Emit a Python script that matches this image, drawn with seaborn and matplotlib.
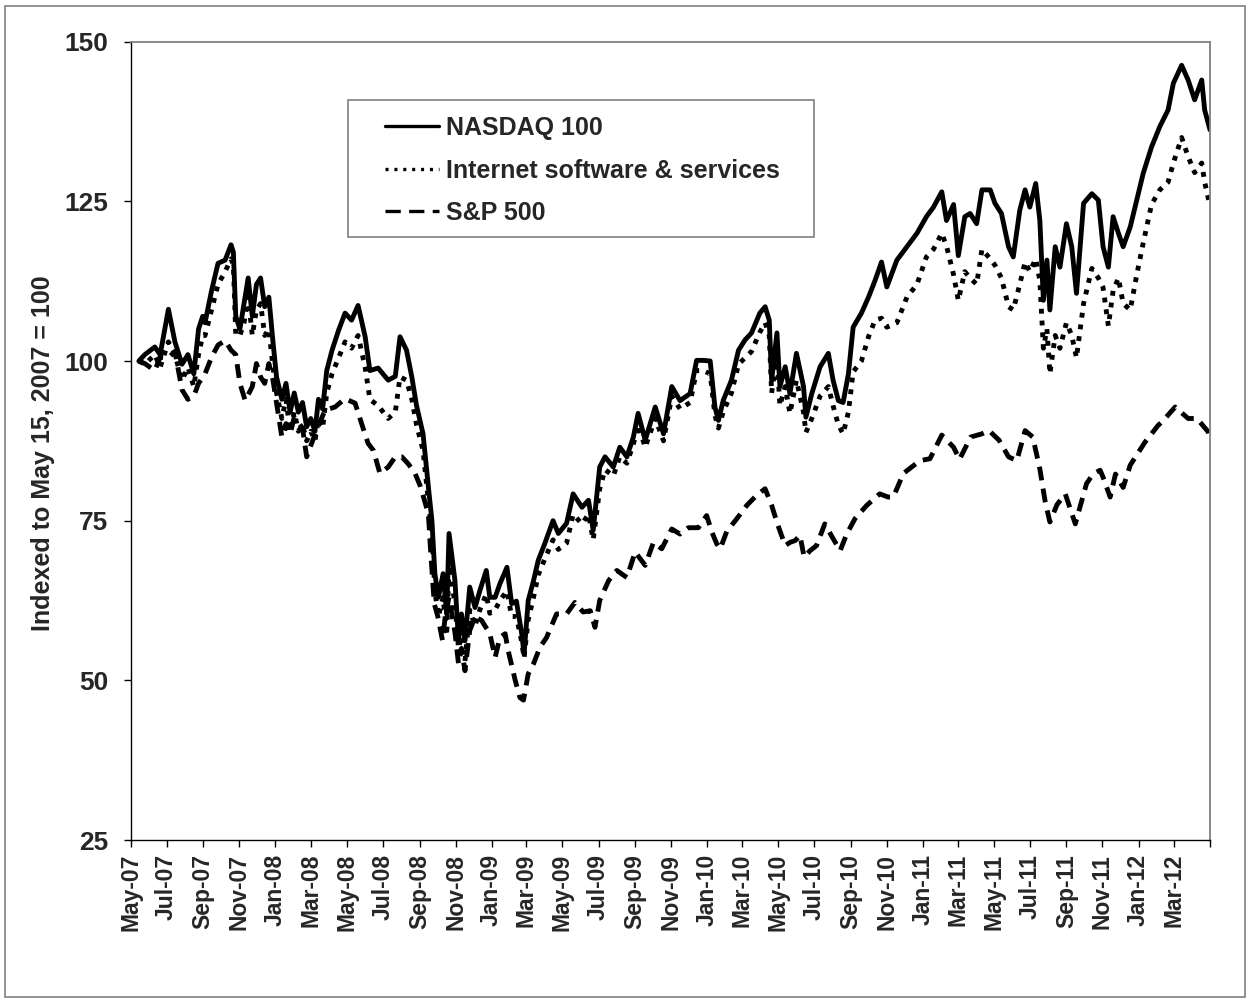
import matplotlib
matplotlib.use("Agg")
import matplotlib.pyplot as plt
from matplotlib.lines import Line2D
from matplotlib.patches import Rectangle
from matplotlib.font_manager import FontProperties
import pandas as pd
import seaborn as sns

# ---------------- data ----------------
series_names = ["NASDAQ 100", "Internet software & services", "S&P 500"]

grid_dates = [
    "2007-05-15", "2007-05-25", "2007-06-11", "2007-06-20", "2007-07-04", "2007-07-15", "2007-07-27", "2007-08-06",
    "2007-08-16", "2007-08-24", "2007-08-31", "2007-09-04", "2007-09-15", "2007-09-26", "2007-10-08", "2007-10-18",
    "2007-10-22", "2007-10-26", "2007-11-02", "2007-11-09", "2007-11-16", "2007-11-23", "2007-11-30", "2007-12-07",
    "2007-12-14", "2007-12-21", "2007-12-28", "2008-01-03", "2008-01-12", "2008-01-19", "2008-01-26", "2008-02-02",
    "2008-02-09", "2008-02-16", "2008-02-23", "2008-03-01", "2008-03-08", "2008-03-14", "2008-03-21", "2008-03-28",
    "2008-04-06", "2008-04-17", "2008-04-28", "2008-05-09", "2008-05-20", "2008-06-01", "2008-06-09", "2008-06-23",
    "2008-07-10", "2008-07-22", "2008-07-30", "2008-08-10", "2008-08-19", "2008-08-27", "2008-09-07", "2008-09-16",
    "2008-09-22", "2008-09-27", "2008-10-03", "2008-10-11", "2008-10-17", "2008-10-21", "2008-10-31", "2008-11-06",
    "2008-11-11", "2008-11-17", "2008-11-25", "2008-12-04", "2008-12-12", "2008-12-23", "2008-12-29", "2009-01-07",
    "2009-01-15", "2009-01-27", "2009-02-04", "2009-02-12", "2009-02-21", "2009-02-25", "2009-03-04", "2009-03-13",
    "2009-03-21", "2009-04-01", "2009-04-15", "2009-04-24", "2009-05-08", "2009-05-19", "2009-06-03", "2009-06-14",
    "2009-06-22", "2009-07-03", "2009-07-12", "2009-07-26", "2009-08-06", "2009-08-18", "2009-08-29", "2009-09-06",
    "2009-09-18", "2009-10-05", "2009-10-19", "2009-11-02", "2009-11-16", "2009-12-03", "2009-12-14", "2009-12-25",
    "2010-01-06", "2010-01-14", "2010-01-20", "2010-01-28", "2010-02-11", "2010-02-23", "2010-03-06", "2010-03-17",
    "2010-03-31", "2010-04-09", "2010-04-16", "2010-04-20", "2010-04-29", "2010-05-04", "2010-05-13", "2010-05-21",
    "2010-06-01", "2010-06-13", "2010-06-17", "2010-06-27", "2010-07-11", "2010-07-25", "2010-08-02", "2010-08-11",
    "2010-08-19", "2010-08-28", "2010-09-05", "2010-09-19", "2010-10-01", "2010-10-12", "2010-10-23", "2010-11-01",
    "2010-11-18", "2010-12-05", "2010-12-22", "2011-01-07", "2011-01-19", "2011-02-02", "2011-02-10", "2011-02-22",
    "2011-03-02", "2011-03-13", "2011-03-22", "2011-04-02", "2011-04-11", "2011-04-25", "2011-05-03", "2011-05-14",
    "2011-05-26", "2011-06-03", "2011-06-14", "2011-06-23", "2011-07-01", "2011-07-11", "2011-07-18", "2011-07-24",
    "2011-07-30", "2011-08-04", "2011-08-13", "2011-08-21", "2011-09-01", "2011-09-10", "2011-09-18", "2011-09-30",
    "2011-10-14", "2011-10-25", "2011-11-02", "2011-11-11", "2011-11-19", "2011-11-28", "2011-12-06", "2011-12-18",
    "2011-12-29", "2012-01-09", "2012-01-23", "2012-02-06", "2012-02-20", "2012-02-29", "2012-03-14", "2012-03-25",
    "2012-04-05", "2012-04-17", "2012-04-22", "2012-05-01",
]

nasdaq_values = [
    100, 101, 102.2, 101, 108.1, 103, 99.5, 101,
    98, 105, 107, 106, 111, 115.3, 115.8, 118.2,
    117, 107, 105, 109, 113, 107, 112, 113,
    108.5, 110, 103, 97.5, 94, 96.5, 92, 95,
    92, 93.5, 89.7, 91, 89, 94, 92.5, 98.5,
    101.7, 104.8, 107.5, 106.4, 108.7, 103.8, 98.5, 98.9,
    97, 97.6, 103.8, 101.7, 97.5, 93, 88.6, 80.3,
    75, 66.7, 63, 66.7, 60.4, 73, 65.6, 56.2,
    60.4, 56.2, 64.6, 61.4, 64, 67.2, 63, 63,
    65.1, 67.7, 62, 62.4, 57.3, 54.1, 62.5, 65.6,
    68.8, 71.4, 75, 73, 74.6, 79.2, 77.1, 78.2,
    73.5, 83.4, 85, 83.4, 86.5, 85, 88.1, 91.8,
    87.6, 92.8, 88.6, 96, 93.8, 94.9, 100.1, 100.1,
    100, 92.8, 90.7, 93.8, 97, 101.7, 103.3, 104.4,
    107.5, 108.5, 106.4, 97, 104.4, 96, 99.1, 94.9,
    101.2, 96, 91.2, 94.9, 99.1, 101.2, 97, 93.8,
    93.5, 98, 105.3, 107.5, 110, 112.6, 115.5, 111.6,
    115.8, 117.9, 120, 122.6, 124.1, 126.5, 122, 124.5,
    116.5, 122.6, 123.1, 121.5, 126.8, 126.8, 124.7, 123.1,
    117.9, 116.3, 123.6, 126.8, 124.1, 127.8, 122, 109.5,
    115.8, 108, 117.9, 114.7, 121.5, 117.9, 110.6, 124.7,
    126.2, 125.2, 117.9, 114.7, 122.6, 120, 117.9, 121,
    125.2, 129.4, 133.5, 136.7, 139.3, 143.5, 146.3, 144,
    140.9, 144, 139.3, 136.2,
]

internet_values = [
    100, 99.5, 101, 99, 103, 101, 97, 99,
    96, 101, 104, 104, 108, 112, 114, 116,
    115, 104, 104, 106, 110, 104, 108, 109,
    104, 105, 99, 95, 91, 94, 89, 92,
    89, 90, 87.5, 89, 87.5, 91, 89.5, 95,
    98, 100.5, 103, 102, 104, 99, 94, 93,
    91, 92, 97.5, 97, 94, 90, 86, 78,
    73, 64, 60, 63, 57, 68, 62, 55,
    57, 53, 61, 58.5, 61, 63.5, 60.5, 61,
    62.5, 64, 60, 60, 56, 53.5, 59.5, 63,
    66.5, 69, 72, 70.5, 71.5, 76, 74.5, 76,
    72, 80, 83, 82, 85, 84, 87, 90,
    86.5, 91, 87.5, 94.5, 92.5, 93.5, 98.5, 98.5,
    98, 91.5, 89.5, 92, 95, 99.5, 100.5, 101.5,
    104.5, 106, 104, 95, 101, 93, 96, 91.8,
    97, 92, 88.8, 91, 94.5, 96, 93, 90,
    88.6, 92, 98.3, 100, 103.8, 106.4, 106.7, 105.3,
    106, 110, 112, 116.3, 117.5, 120, 118, 113.5,
    109.5, 114, 113, 112, 117.5, 116, 115, 113,
    108.5, 108, 112, 115.5, 114, 116, 112.6, 102,
    105, 98, 104, 102, 106, 104, 100.5, 109,
    114.5, 113, 111.5, 105.5, 111, 113, 109, 108,
    113.5, 118.5, 124.5, 126.8, 128, 131, 135, 132,
    129.5, 131, 128, 124.3,
]

sp500_dates = [
    "2007-05-15", "2007-05-25", "2007-06-11", "2007-06-20", "2007-07-04", "2007-07-15", "2007-07-27", "2007-08-06",
    "2007-08-16", "2007-08-24", "2007-09-04", "2007-09-15", "2007-09-26", "2007-10-08", "2007-10-18", "2007-10-26",
    "2007-11-02", "2007-11-11", "2007-11-23", "2007-11-30", "2007-12-07", "2007-12-14", "2007-12-21", "2007-12-28",
    "2008-01-03", "2008-01-12", "2008-01-19", "2008-01-26", "2008-02-02", "2008-02-16", "2008-02-23", "2008-03-08",
    "2008-03-25", "2008-04-11", "2008-04-28", "2008-05-15", "2008-05-26", "2008-06-06", "2008-06-15", "2008-06-26",
    "2008-07-10", "2008-07-22", "2008-08-02", "2008-08-13", "2008-08-24", "2008-09-02", "2008-09-10", "2008-09-16",
    "2008-09-20", "2008-09-26", "2008-10-02", "2008-10-10", "2008-10-15", "2008-10-21", "2008-10-31", "2008-11-06",
    "2008-11-11", "2008-11-17", "2008-11-25", "2008-12-04", "2008-12-15", "2008-12-29", "2009-01-07", "2009-01-15",
    "2009-01-24", "2009-01-29", "2009-02-10", "2009-02-18", "2009-02-24", "2009-03-04", "2009-03-13", "2009-03-24",
    "2009-04-04", "2009-04-21", "2009-05-08", "2009-05-22", "2009-06-05", "2009-06-17", "2009-06-25", "2009-07-03",
    "2009-07-18", "2009-08-01", "2009-08-18", "2009-09-01", "2009-09-18", "2009-10-02", "2009-10-16", "2009-11-02",
    "2009-11-16", "2009-11-30", "2009-12-17", "2009-12-31", "2010-01-09", "2010-01-17", "2010-01-23", "2010-02-03",
    "2010-02-20", "2010-03-09", "2010-03-26", "2010-04-09", "2010-04-20", "2010-05-01", "2010-05-13", "2010-05-21",
    "2010-05-30", "2010-06-07", "2010-06-14", "2010-06-24", "2010-07-05", "2010-07-19", "2010-08-02", "2010-08-14",
    "2010-08-25", "2010-09-08", "2010-09-28", "2010-10-20", "2010-11-03", "2010-11-12", "2010-11-29", "2010-12-27",
    "2011-01-13", "2011-02-02", "2011-02-22", "2011-03-04", "2011-03-23", "2011-04-11", "2011-04-23", "2011-05-10",
    "2011-05-26", "2011-06-09", "2011-06-23", "2011-07-06", "2011-07-18", "2011-07-27", "2011-08-04", "2011-08-16",
    "2011-08-30", "2011-09-16", "2011-10-05", "2011-10-16", "2011-10-28", "2011-11-02", "2011-11-14", "2011-11-23",
    "2011-12-06", "2011-12-18", "2012-01-12", "2012-02-03", "2012-02-12", "2012-03-03", "2012-03-25", "2012-04-09",
    "2012-04-28", "2012-05-01",
]

sp500_values = [
    100, 99.6, 98.5, 100.6, 100.5, 101.5, 95.5, 94,
    94.5, 96.5, 98, 100.6, 102.5, 103.2, 101.7, 101,
    96.5, 93.8, 96, 99.6, 97.5, 96.5, 99.6, 97,
    93.4, 88.1, 90.2, 88.6, 91.2, 89.5, 85, 88.5,
    92.3, 92.8, 94.1, 93.4, 90.2, 87.1, 86, 82.4,
    83.4, 85, 85, 83.9, 82.5, 80.5, 78, 76,
    70, 62, 60, 56.2, 60.4, 63, 57.5, 52.6,
    55, 51.5, 57.8, 59.9, 59.4, 57.3, 53.6, 56.7,
    57.3, 54.7, 50, 47.3, 46.9, 51, 52.6, 55.2,
    56.7, 60.4, 60.4, 62.2, 60.7, 60.9, 58.3, 62.5,
    65.6, 67.2, 66.1, 70.1, 68, 71.6, 70.6, 73.7,
    72.9, 73.9, 73.9, 75.8, 73.2, 71.4, 70.6, 73.3,
    75.3, 77.4, 79, 80, 77.4, 74.2, 71.1, 71.6,
    71.9, 72.7, 69.3, 70.3, 71.1, 74.5, 72.2, 70.3,
    72.9, 75.3, 77.4, 79.2, 78.7, 78.7, 82.4, 84.4,
    84.7, 88.4, 86.5, 84.6, 88.1, 88.6, 89.1, 87.6,
    85, 84.4, 89.1, 88.1, 83.1, 78, 74.8, 77.5,
    79.2, 74.5, 80.8, 82.3, 82.9, 81.8, 78.7, 82.3,
    80.2, 83.7, 87.3, 89.9, 90.7, 92.8, 91, 91,
    88.9, 88,
]

y_ticks = [25, 50, 75, 100, 125, 150]
x_tick_dates = pd.date_range("2007-05-01", "2012-05-01", freq="2MS")

# ---------------- build long-form table ----------------
frames = [
    pd.DataFrame({"date": pd.to_datetime(grid_dates), "value": nasdaq_values, "series": series_names[0]}),
    pd.DataFrame({"date": pd.to_datetime(grid_dates), "value": internet_values, "series": series_names[1]}),
    pd.DataFrame({"date": pd.to_datetime(sp500_dates), "value": sp500_values, "series": series_names[2]}),
]
df = pd.concat(frames, ignore_index=True)

# ---------------- style ----------------
sns.set_theme(style="white")
plt.rcParams["font.family"] = ["Liberation Sans", "DejaVu Sans"]
plt.rcParams["font.weight"] = "bold"
plt.rcParams["lines.scale_dashes"] = False
plt.rcParams["lines.solid_joinstyle"] = "round"

W, H = 1251, 1002
fig = plt.figure(figsize=(W / 100, H / 100), dpi=100)
fig.patch.set_facecolor("white")

left_px, right_px, top_px, bottom_px = 130.6, 1210, 41.7, 840
ax = fig.add_axes([left_px / W, 1 - bottom_px / H, (right_px - left_px) / W, (bottom_px - top_px) / H])

dash_map = {
    series_names[0]: "",
    series_names[1]: (3.5, 5),
    series_names[2]: (10, 6),
}
sns.lineplot(
    data=df, x="date", y="value", hue="series", style="series",
    hue_order=series_names, style_order=series_names,
    palette={n: "black" for n in series_names}, dashes=dash_map,
    linewidth=3.5, estimator=None, sort=True, legend=False, ax=ax,
)

ax.set_ylim(25, 150)
ax.set_yticks(y_ticks)
ax.set_yticklabels([str(v) for v in y_ticks], fontsize=19, fontweight="bold")
ax.set_xlim(pd.Timestamp("2007-05-01"), pd.Timestamp("2012-05-01"))
ax.set_xticks(x_tick_dates)
xlabels = [d.strftime("%b-%y") for d in x_tick_dates]
xlabels[-1] = ""
ax.set_xticklabels(xlabels, rotation=90, fontsize=16.5, fontweight="bold", ha="center", va="top")
ax.set_xlabel("")
ax.set_ylabel("Indexed to May 15, 2007 = 100", fontsize=18, fontweight="bold")
ax.yaxis.set_label_coords(-0.0705, 0.485)

ax.tick_params(axis="both", which="major", direction="out", length=5, width=1.0,
               color="black", bottom=True, left=True)
ax.tick_params(axis="y", pad=11)
ax.tick_params(axis="x", pad=5)

for side in ["left", "bottom"]:
    ax.spines[side].set_color("black")
    ax.spines[side].set_linewidth(1.0)
for side in ["top", "right"]:
    ax.spines[side].set_color("#808080")
    ax.spines[side].set_linewidth(1.3)

# ---------------- legend ----------------
fig.add_artist(Rectangle((348 / W, 1 - 237 / H), (814 - 348) / W, (237 - 100) / H,
                         transform=fig.transFigure, facecolor="white",
                         edgecolor="#808080", linewidth=1.2, zorder=3))
handles = [
    Line2D([], [], color="black", linewidth=2.4),
    Line2D([], [], color="black", linewidth=2.4, dashes=(2.2, 4.2)),
    Line2D([], [], color="black", linewidth=2.4, dashes=(11, 6)),
]
fig.legend(handles, series_names, loc="upper left",
           bbox_to_anchor=(385 / W, 1 - 116 / H), bbox_transform=fig.transFigure,
           frameon=False, borderpad=0, borderaxespad=0,
           handlelength=2.16, handletextpad=0.28, labelspacing=0.74,
           prop=FontProperties(family=["Liberation Sans", "DejaVu Sans"], weight="bold", size=18))

# ---------------- chart-area border ----------------
fig.add_artist(Rectangle((5 / W, 5 / H), (W - 11) / W, (H - 11) / H,
                         transform=fig.transFigure, fill=False,
                         edgecolor="#808080", linewidth=1.2, zorder=0))

fig.savefig("out.png", dpi=100, facecolor="white")
